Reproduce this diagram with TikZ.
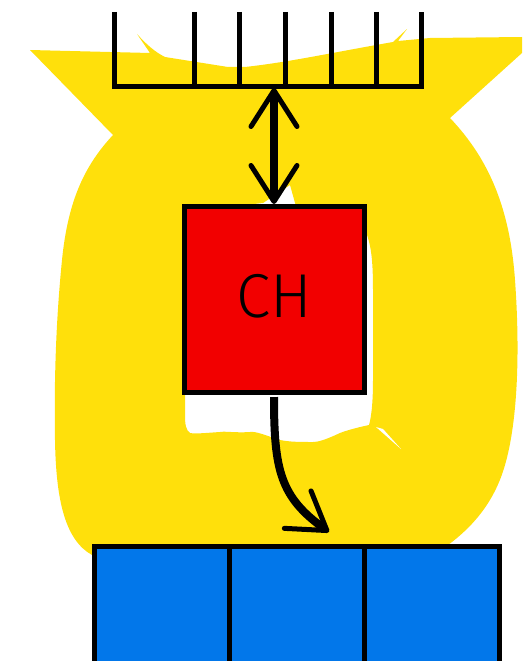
\documentclass[tikz,border=0pt]{standalone}
\usepackage{fontspec}
\setsansfont{Fira Sans Light}
\usetikzlibrary{arrows.meta,positioning}

\definecolor{sackyellow}{HTML}{FFE00B}
\definecolor{chred}{HTML}{F20000}
\definecolor{cellblue}{HTML}{0277EA}

\begin{document}
\begin{tikzpicture}[x=1pt,y=-1pt,
		>={Straight Barb[length=36pt,width=46pt,line width=5pt,round]},
		box/.style={draw,line width=5pt,inner sep=0pt,outer sep=0pt},
		cell/.style={box,fill=cellblue,minimum width=135pt,minimum height=130pt}]
		
		\useasboundingbox (0,0) rectangle (522,661);
		
		% Yellow sack, with the hole round the CH box
		\fill[sackyellow,even odd rule]
			(30,50) -- (150,53) -- (137,34) .. controls (147,45) and (155,52) .. (165,57)
			-- (228,67) -- (245,67) .. controls (290,62) and (330,53) .. (393,42)
			-- (407,29) -- (398,41) -- (430,38) -- (522,37) -- (522,53) -- (450,118)
			.. controls (490,160) and (510,210) .. (515,280)
			.. controls (520,350) and (518,420) .. (505,465)
			.. controls (495,500) and (475,525) .. (448,545)
			-- (440,560) -- (100,560) -- (92,555)
			.. controls (65,540) and (56,500) .. (55,440)
			.. controls (54,380) and (56,320) .. (62,260)
			.. controls (68,200) and (85,165) .. (113,135) -- cycle
			% hole
			(290,185) -- (297,210) -- (366,232) .. controls (371,245) and (373,260) .. (373,290)
			-- (373,380) .. controls (373,405) and (371,418) .. (369,425)
			.. controls (355,428) and (345,431) .. (340,433)
			.. controls (325,440) and (318,442) .. (313,442)
			.. controls (300,442) and (290,442) .. (280,440)
			.. controls (265,435) and (255,431) .. (250,432)
			.. controls (235,433) and (225,431) .. (220,432)
			.. controls (205,433) and (195,434) .. (190,433)
			.. controls (186,430) and (185,425) .. (185,415)
			-- (185,380) -- (200,210) -- (263,203) -- cycle;
		\fill[white] (376,427) -- (383,429) -- (401,449) -- cycle;
		
		% Draw buffer
		\draw[line width=5pt] (114,12) -- (114,86) -- (421,86) -- (421,12);
		\draw[line width=5pt] (194,12) -- (194,86) (239,12) -- (239,86) (285,12) -- (285,86)
			(331,12) -- (331,86) (376,12) -- (376,86);
		\coordinate (buf) at (274,88);
		
		% CH box
		\node[box,fill=chred,minimum width=180pt,minimum height=186pt,
			font=\sffamily\fontsize{62}{62}\selectfont] (ch) at (274,299) {\raisebox{6pt}{CH}};
		
		% Draw cells
		\node[cell,anchor=north west] (c1) at (94,546) {};
		\node[cell,right=0pt of c1] (c2) {};
		\node[cell,right=0pt of c2] (c3) {};
		
		% Draw arrows
		\draw[line width=8pt,<->,shorten >=2pt] (buf) -- (ch.north);
		\coordinate (out) at (329,532);
		\draw[line width=8pt,->,shorten <=5pt] (ch.south) .. controls (274,470) and (280,497) .. (out);
		
\end{tikzpicture}
\end{document}
